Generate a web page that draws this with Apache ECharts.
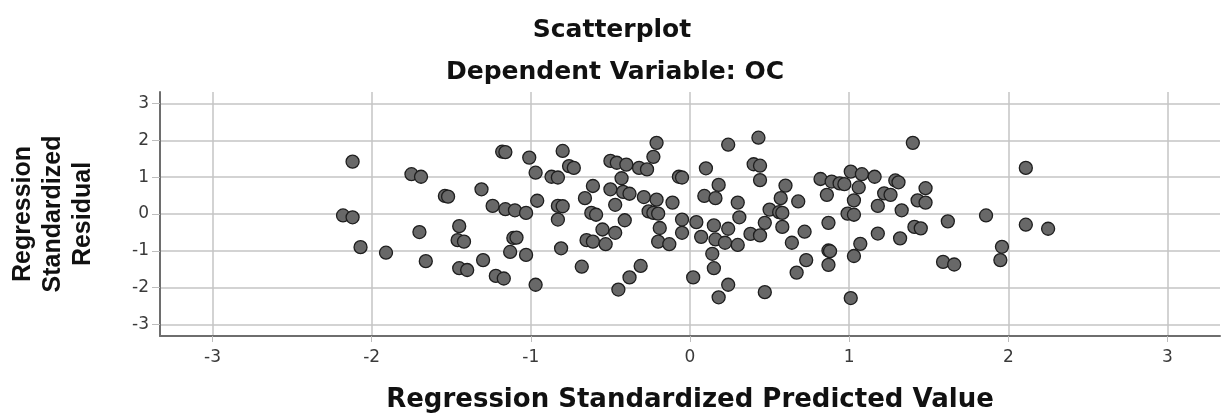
<!DOCTYPE html>
<html>
<head>
<meta charset="utf-8">
<title>Scatterplot</title>
<script src="https://cdn.jsdelivr.net/npm/echarts@6/dist/echarts.min.js"></script>
<style>
  html, body { margin: 0; padding: 0; background: #fff; }
  #main { width: 1221px; height: 418px; }
</style>
</head>
<body>
<div id="main"></div>
<script>
  // predicted values (x) and residuals (y)
  var predicted = [
    -2.12, -1.75, -1.69, -1.54, -1.52, -2.18, -2.12, -1.70, -2.07, -1.91, -1.66,
    -1.18, -1.16, -1.01, -0.80, -0.76, -0.73, -0.97, -0.87, -0.83, -1.31, -0.96,
    -1.24, -1.16, -1.10, -1.03, -0.83, -0.80, -0.83, -1.45, -1.46, -1.42, -1.11,
    -1.09, -1.13, -1.03, -0.81, -1.30, -1.45, -1.40, -1.22, -1.17, -0.97,
    -0.21, -0.23, -0.50, -0.46, -0.40, -0.32, -0.27, -0.07, -0.05, -0.43, -0.61,
    -0.50, -0.42, -0.38, -0.66, -0.29, -0.21, -0.11, -0.47, -0.62, -0.59, -0.26,
    -0.23, -0.20, -0.41, -0.05, -0.55, -0.47, -0.19, -0.05, -0.65, -0.61, -0.53,
    -0.20, -0.13, -0.68, -0.31, -0.38, -0.45,
    0.43, 0.24, 0.10, 0.40, 0.44, 0.44, 0.18, 0.60, 0.09, 0.16, 0.57, 0.68, 0.30,
    0.50, 0.56, 0.58, 0.31, 0.04, 0.15, 0.24, 0.47, 0.58, 0.07, 0.16, 0.22, 0.30,
    0.38, 0.44, 0.72, 0.64, 0.14, 0.73, 0.15, 0.67, 0.02, 0.24, 0.18, 0.47,
    1.40, 1.01, 1.08, 1.16, 0.82, 0.89, 0.94, 0.97, 1.06, 1.29, 1.31, 1.48, 0.86,
    1.22, 1.26, 1.03, 1.18, 1.33, 1.43, 1.48, 0.99, 1.03, 0.87, 1.18, 1.32, 1.41,
    1.45, 1.07, 0.87, 0.88, 1.03, 0.87, 1.01,
    2.11, 1.62, 1.86, 2.11, 2.25, 1.96, 1.95, 1.59, 1.66
  ]
  var residual = [
    1.42, 1.08, 1.01, 0.49, 0.47, -0.04, -0.09, -0.49, -0.90, -1.05, -1.28,
    1.69, 1.68, 1.53, 1.71, 1.30, 1.25, 1.12, 1.01, 0.99, 0.67, 0.36,
    0.22, 0.13, 0.10, 0.03, 0.22, 0.21, -0.15, -0.33, -0.71, -0.75, -0.65,
    -0.64, -1.03, -1.11, -0.93, -1.25, -1.47, -1.52, -1.68, -1.75, -1.92,
    1.93, 1.55, 1.44, 1.39, 1.34, 1.25, 1.21, 1.01, 0.99, 0.97, 0.76,
    0.67, 0.60, 0.55, 0.43, 0.46, 0.39, 0.31, 0.25, 0.03, -0.02, 0.07,
    0.03, 0.01, -0.17, -0.15, -0.42, -0.51, -0.38, -0.51, -0.71, -0.75, -0.82,
    -0.75, -0.82, -1.43, -1.41, -1.72, -2.05,
    2.07, 1.88, 1.24, 1.35, 1.31, 0.92, 0.79, 0.77, 0.49, 0.43, 0.43, 0.34, 0.31,
    0.12, 0.05, 0.03, -0.09, -0.22, -0.31, -0.40, -0.24, -0.35, -0.62, -0.69, -0.78, -0.84,
    -0.54, -0.58, -0.48, -0.78, -1.08, -1.25, -1.47, -1.59, -1.72, -1.92, -2.26, -2.12,
    1.93, 1.15, 1.08, 1.01, 0.95, 0.88, 0.83, 0.81, 0.72, 0.91, 0.86, 0.70, 0.52,
    0.56, 0.52, 0.37, 0.22, 0.10, 0.37, 0.31, 0.01, -0.02, -0.24, -0.53, -0.66, -0.35,
    -0.39, -0.81, -0.99, -1.01, -1.14, -1.38, -2.28,
    1.25, -0.20, -0.04, -0.29, -0.40, -0.89, -1.25, -1.30, -1.37
  ]

  var points = predicted.map(function (x, i) {
    return [x, residual[i]]
  })

  var chart = echarts.init(document.getElementById('main'))

  var option = {
    backgroundColor: '#ffffff',
    animation: false,
    title: [
      {
        text: 'Scatterplot',
        left: 607,
        top: 13,
        textAlign: 'center',
        textStyle: { fontFamily: 'DejaVu Sans', fontWeight: 'bold', fontSize: 25, lineHeight: 25, color: '#111' }
      },
      {
        text: 'Dependent Variable: OC',
        left: 610,
        top: 55,
        textAlign: 'center',
        textStyle: { fontFamily: 'DejaVu Sans', fontWeight: 'bold', fontSize: 25, lineHeight: 25, color: '#111' }
      }
    ],
    grid: {
      left: 157,
      right: 1,
      top: 92,
      bottom: 80
    },
    xAxis: {
      type: 'value',
      min: -3.33,
      max: 3.33,
      minInterval: 1,
      maxInterval: 1,
      name: 'Regression Standardized Predicted Value',
      nameLocation: 'middle',
      nameGap: 51,
      nameTextStyle: { fontFamily: 'DejaVu Sans', fontWeight: 'bold', fontSize: 26, color: '#111' },
      axisLine: { onZero: false, lineStyle: { color: '#6e6e6e', width: 2 } },
      axisTick: { show: true, length: 6, lineStyle: { color: '#bdbdbd' } },
      axisLabel: {
        showMinLabel: false,
        showMaxLabel: false,
        margin: 13,
        fontFamily: 'DejaVu Sans',
        fontSize: 17,
        color: '#3a3a3a'
      },
      splitLine: { show: true, showMinLine: false, showMaxLine: false, lineStyle: { color: '#c4c4c4', width: 1.5 } }
    },
    yAxis: {
      type: 'value',
      min: -3.31,
      max: 3.31,
      minInterval: 1,
      maxInterval: 1,
      name: 'Regression\nStandardized\nResidual',
      nameLocation: 'middle',
      nameGap: 62,
      nameRotate: 90,
      nameTextStyle: { fontFamily: 'Liberation Sans', fontWeight: 'bold', fontSize: 25, lineHeight: 30, color: '#111' },
      axisLine: { onZero: false, lineStyle: { color: '#6e6e6e', width: 2 } },
      axisTick: { show: true, length: 8, lineStyle: { color: '#bdbdbd' } },
      axisLabel: {
        showMinLabel: false,
        showMaxLabel: false,
        margin: 11,
        fontFamily: 'DejaVu Sans',
        fontSize: 17,
        color: '#3a3a3a'
      },
      splitLine: { show: true, showMinLine: false, showMaxLine: false, lineStyle: { color: '#c4c4c4', width: 1.5 } }
    },
    series: [{
      type: 'scatter',
      data: points,
      symbol: 'circle',
      symbolSize: 13,
      itemStyle: {
        color: '#686868',
        borderColor: '#1e1e1e',
        borderWidth: 1.3,
        opacity: 1
      }
    }]
  }

  chart.setOption(option)
</script>
</body>
</html>
